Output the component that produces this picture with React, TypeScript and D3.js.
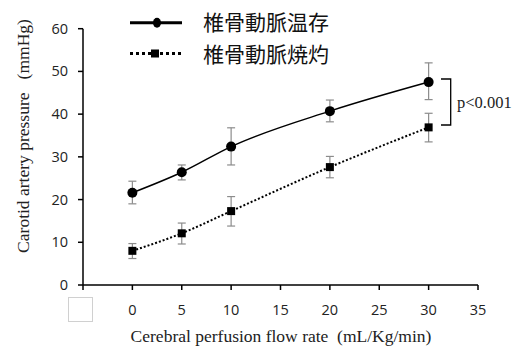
import React from "react";
import * as d3 from "d3";

const flowRates = [0, 5, 10, 20, 30];
const preservedMean = [21.6, 26.4, 32.4, 40.7, 47.5];
const preservedUpper = [24.3, 28.1, 36.8, 43.3, 52.0];
const preservedLower = [19.0, 24.6, 28.1, 38.2, 43.4];
const cauterizedMean = [8.0, 12.1, 17.3, 27.6, 36.9];
const cauterizedUpper = [9.7, 14.5, 20.7, 30.1, 40.2];
const cauterizedLower = [6.2, 9.6, 13.8, 25.1, 33.5];
const xTicks = [0, 5, 10, 15, 20, 25, 30, 35];
const yTicks = [0, 10, 20, 30, 40, 50, 60];
const seriesNames = ["椎骨動脈温存", "椎骨動脈焼灼"];
const pLabel = "p<0.001";
const xTitle = "Cerebral perfusion flow rate\u00A0\u00A0(mL/Kg/min)";
const yTitle = "Carotid artery pressure\u00A0\u00A0\u00A0(mmHg)";

export default function App() {
  const W = 512, H = 347;
  const x = d3.scaleLinear().domain([-5, 35]).range([83, 478]);
  const y = d3.scaleLinear().domain([0, 60]).range([285, 28.7]);
  const line = d3
    .line<number>()
    .x((_, i) => x(flowRates[i]))
    .y((d) => y(d))
    .curve(d3.curveMonotoneX);
  const tickFont = "'Open Sans', 'Noto Sans', sans-serif";
  const serif = "'Liberation Serif', 'DejaVu Serif', serif";
  const gray = "#8c8c8c";

  const errBars = (mean: number[], up: number[], lo: number[], key: string) =>
    mean.map((_, i) => {
      const cx = x(flowRates[i]);
      return (
        <g key={key + i} stroke={gray} strokeWidth={1.2}>
          <line x1={cx} x2={cx} y1={y(up[i])} y2={y(lo[i])} />
          <line x1={cx - 4} x2={cx + 4} y1={y(up[i])} y2={y(up[i])} />
          <line x1={cx - 4} x2={cx + 4} y1={y(lo[i])} y2={y(lo[i])} />
        </g>
      );
    });

  return (
    <svg
      width={W}
      height={H}
      style={{ position: "absolute", left: 0, top: 0, background: "#fff" }}
    >
      <rect x={0} y={0} width={W} height={H} fill="#fff" />
      {/* axes */}
      <line x1={x(-5)} x2={x(-5)} y1={y(60)} y2={y(0)} stroke="#000" strokeWidth={1.5} />
      <line x1={x(-5)} x2={x(35)} y1={y(0)} y2={y(0)} stroke="#000" strokeWidth={1.5} />
      {yTicks.map((t) => (
        <g key={"y" + t}>
          <line x1={x(-5) - 5} x2={x(-5)} y1={y(t)} y2={y(t)} stroke="#000" strokeWidth={1.5} />
          <text
            x={68}
            y={y(t)}
            dy="0.35em"
            textAnchor="end"
            fontFamily={tickFont}
            fontSize={14.5}
            fill="#222"
          >
            {t}
          </text>
        </g>
      ))}
      {[-5, ...xTicks].map((t) => (
        <line
          key={"xt" + t}
          x1={x(t)}
          x2={x(t)}
          y1={y(0)}
          y2={y(0) + 5}
          stroke="#000"
          strokeWidth={1.5}
        />
      ))}
      {xTicks.map((t) => (
        <text
          key={"xl" + t}
          x={x(t)}
          y={310}
          dy="0.35em"
          textAnchor="middle"
          fontFamily={tickFont}
          fontSize={14.5}
          fill="#222"
        >
          {t}
        </text>
      ))}
      <rect x={68.5} y={297.5} width={24} height={24} fill="#fff" stroke="#d0d0d0" strokeWidth={1} />

      {/* titles */}
      <text
        x={281}
        y={342}
        textAnchor="middle"
        fontFamily={serif}
        fontSize={17.5}
        fill="#222"
      >
        {xTitle}
      </text>
      <text
        transform={`translate(29, ${136}) rotate(-90)`}
        textAnchor="middle"
        fontFamily={serif}
        fontSize={17.5}
        fill="#222"
      >
        {yTitle}
      </text>

      {/* error bars */}
      {errBars(preservedMean, preservedUpper, preservedLower, "p")}
      {errBars(cauterizedMean, cauterizedUpper, cauterizedLower, "c")}

      {/* lines */}
      <path d={line(preservedMean) || ""} fill="none" stroke="#000" strokeWidth={1.5} />
      <path
        d={line(cauterizedMean) || ""}
        fill="none"
        stroke="#000"
        strokeWidth={2}
        strokeDasharray="2,2"
      />

      {/* markers */}
      {preservedMean.map((v, i) => (
        <circle key={"pc" + i} cx={x(flowRates[i])} cy={y(v)} r={5} fill="#000" />
      ))}
      {cauterizedMean.map((v, i) => (
        <rect
          key={"cs" + i}
          x={x(flowRates[i]) - 4}
          y={y(v) - 4}
          width={8}
          height={8}
          fill="#000"
        />
      ))}

      {/* legend */}
      <line x1={130} x2={182} y1={22.7} y2={22.7} stroke="#000" strokeWidth={3} />
      <ellipse cx={157} cy={22.7} rx={4} ry={5} fill="#000" />
      <line
        x1={130}
        x2={182}
        y1={53.5}
        y2={53.5}
        stroke="#000"
        strokeWidth={3}
        strokeDasharray="3,3"
      />
      <rect x={151} y={49.5} width={8} height={8} fill="#000" />
      <text
        x={203}
        y={23}
        dy="0.35em"
        fontFamily="'Noto Sans CJK JP', sans-serif"
        fontSize={21}
        fill="#111"
      >
        {seriesNames[0]}
      </text>
      <text
        x={203}
        y={54.5}
        dy="0.35em"
        fontFamily="'Noto Sans CJK JP', sans-serif"
        fontSize={21}
        fill="#111"
      >
        {seriesNames[1]}
      </text>

      {/* significance bracket */}
      <path d="M441,79 H450.7 V125 H441" fill="none" stroke="#000" strokeWidth={1.3} />
      <text x={457} y={108} fontFamily={serif} fontSize={16.5} fill="#222">
        {pLabel}
      </text>
    </svg>
  );
}
